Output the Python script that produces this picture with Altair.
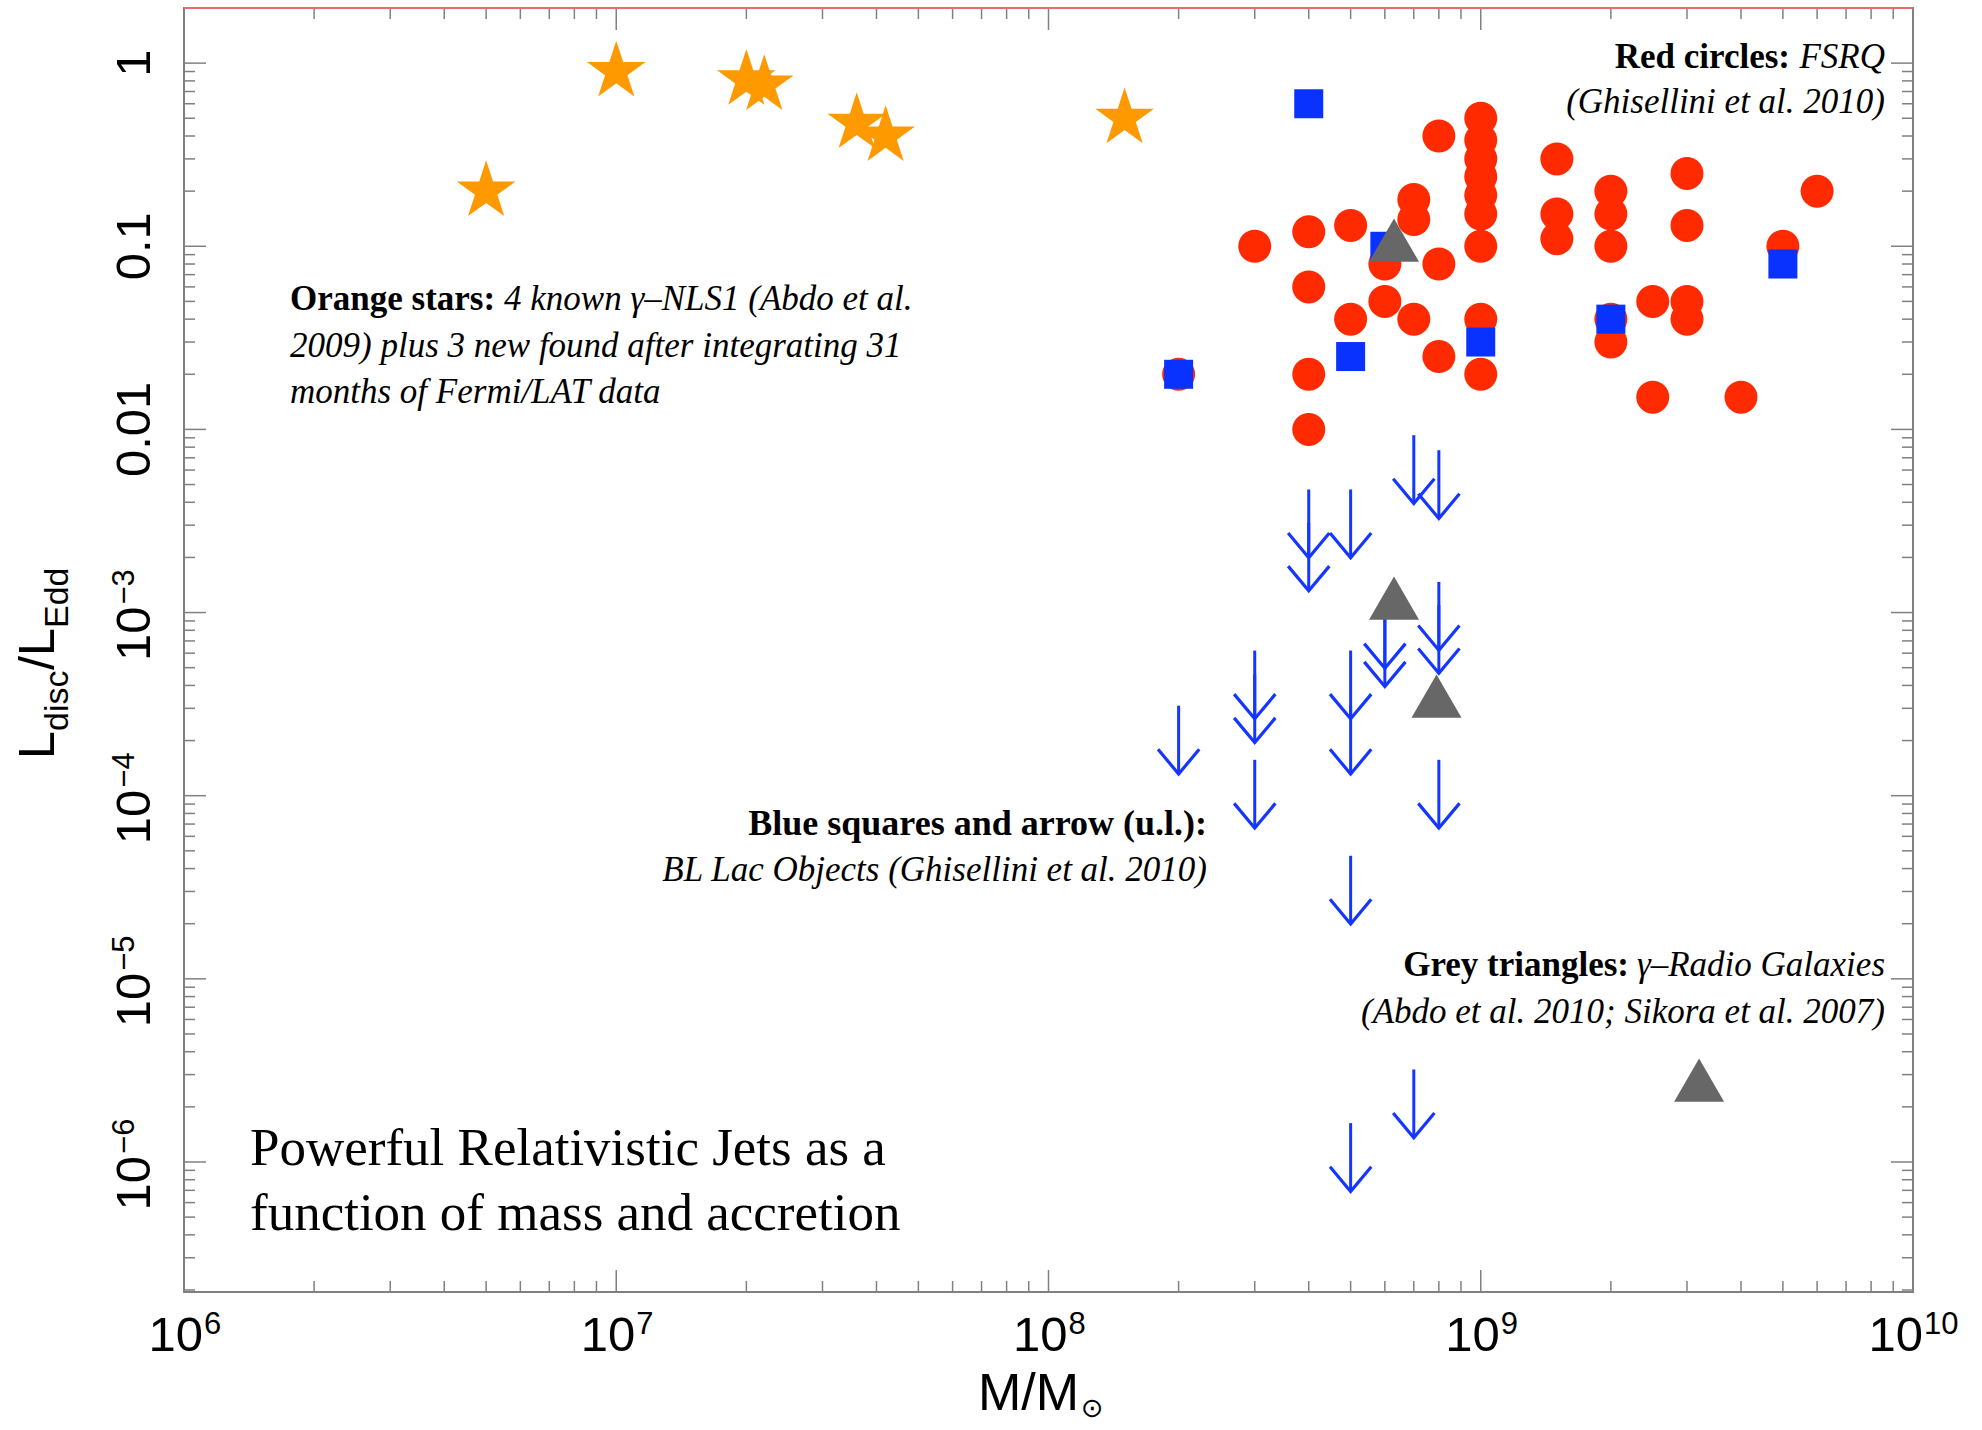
import altair as alt
import pandas as pd

# ---------------- data ----------------
STAR_MASS = [5e6, 1e7, 2e7, 2.2e7, 3.6e7, 4.2e7, 1.5e8]
STAR_LUM = [0.20, 0.90, 0.81, 0.76, 0.47, 0.40, 0.50]

FSRQ_MASS = [3e8, 4e8, 4e8, 4e8, 4e8, 5e8, 5e8, 6e8, 6e8, 7e8, 7e8, 7e8, 8e8, 8e8, 8e8,
             1e9, 1e9, 1e9, 1e9, 1e9, 1e9, 1e9, 1e9, 1e9,
             1.5e9, 1.5e9, 1.5e9,
             2e9, 2e9, 2e9, 2e9, 2e9,
             2.5e9, 2.5e9,
             3e9, 3e9, 3e9, 3e9,
             4e9, 5e9, 6e9, 2e8]
FSRQ_LUM = [0.10, 0.12, 0.06, 0.02, 0.01, 0.13, 0.04, 0.08, 0.05, 0.18, 0.14, 0.04, 0.40, 0.08, 0.025,
            0.50, 0.38, 0.30, 0.24, 0.19, 0.15, 0.10, 0.04, 0.02,
            0.30, 0.15, 0.11,
            0.20, 0.15, 0.10, 0.04, 0.03,
            0.05, 0.015,
            0.25, 0.13, 0.05, 0.04,
            0.015, 0.10, 0.20, 0.02]

BLL_MASS = [4e8, 2e8, 5e8, 1e9, 2e9, 5e9, 6e8]
BLL_LUM = [0.60, 0.02, 0.025, 0.03, 0.04, 0.08, 0.10]

UL_MASS = [4e8, 4e8, 5e8, 7e8, 8e8, 6e8, 6e8, 8e8, 8e8, 3e8, 3e8, 5e8, 5e8, 2e8,
           3e8, 8e8, 5e8, 7e8, 5e8]
UL_LUM = [4.7e-3, 3.1e-3, 4.7e-3, 9.3e-3, 7.7e-3, 1.17e-3, 9.3e-4, 1.47e-3, 1.1e-3,
          6.2e-4, 4.6e-4, 6.2e-4, 3.1e-4, 3.1e-4, 1.57e-4, 1.57e-4, 4.7e-5, 3.2e-6, 1.63e-6]

RG_MASS = [6.3e8, 6.3e8, 7.9e8, 3.2e9]
RG_LUM = [0.108, 1.2e-3, 3.5e-4, 2.8e-6]

X_DECADES = [1e6, 1e7, 1e8, 1e9, 1e10]
X_EXPONENTS = ["6", "7", "8", "9", "10"]
Y_PLAIN = [1.0, 0.1, 0.01]
Y_PLAIN_LABELS = ["1", "0.1", "0.01"]
Y_POW = [1e-3, 1e-4, 1e-5, 1e-6]
Y_POW_EXP = ["\u22123", "\u22124", "\u22125", "\u22126"]

# ---------------- layout ----------------
W, H = 1729, 1284
PAD = {"left": 184, "top": 8, "right": 69, "bottom": 138}

xscale = alt.Scale(type="log", domain=[1e6, 1e10], nice=False)
yscale = alt.Scale(type="log", domain=[1.95e-7, 2.0], nice=False)

ORANGE = "#ff9900"
RED = "#ff2a00"
BLUE = "#0a32ff"
ARROW = "#1436ff"
GREY = "#676767"
TICK = "#808080"

STAR_PATH = ("M0,-1L0.2245,-0.309L0.951,-0.309L0.363,0.118L0.588,0.809L0,0.382"
             "L-0.588,0.809L-0.363,0.118L-0.951,-0.309L-0.2245,-0.309Z")
CHEVRON = "M-1,-1.2L0,0L1,-1.2"


def X(f="m"):
    return alt.X(f"{f}:Q", scale=xscale, axis=None)


def Y(f="l"):
    return alt.Y(f"{f}:Q", scale=yscale, axis=None)


layers = []

# ---- ticks on all four sides (inward) ----
x_major = list(X_DECADES)
x_minor = [m * 10.0 ** e for e in range(6, 10) for m in range(2, 10)]
y_major = [10.0 ** e for e in range(-6, 1)]
y_minor = [m * 10.0 ** e for e in range(-7, 1) for m in range(2, 10)
           if 1.95e-7 <= m * 10.0 ** e <= 2.0]

for vals, ln in ((x_major, 22), (x_minor, 11)):
    d = pd.DataFrame({"v": vals})
    layers.append(alt.Chart(d).mark_rule(color=TICK, strokeWidth=1.5).encode(
        x=X("v"), y=alt.value(H), y2=alt.value(H - ln)))
    layers.append(alt.Chart(d).mark_rule(color=TICK, strokeWidth=1.5).encode(
        x=X("v"), y=alt.value(0), y2=alt.value(ln)))
for vals, ln in ((y_major, 22), (y_minor, 11)):
    d = pd.DataFrame({"v": vals})
    layers.append(alt.Chart(d).mark_rule(color=TICK, strokeWidth=1.5).encode(
        y=Y("v"), x=alt.value(0), x2=alt.value(ln)))
    layers.append(alt.Chart(d).mark_rule(color=TICK, strokeWidth=1.5).encode(
        y=Y("v"), x=alt.value(W), x2=alt.value(W - ln)))

# reddish top edge
layers.append(alt.Chart(pd.DataFrame({"a": [0]})).mark_rule(color="#ec6a6a", strokeWidth=2).encode(
    x=alt.value(0), x2=alt.value(W), y=alt.value(0)))

# ---- data marks ----
stars = pd.DataFrame({"m": STAR_MASS, "l": STAR_LUM})
fsrq = pd.DataFrame({"m": FSRQ_MASS, "l": FSRQ_LUM})
bll = pd.DataFrame({"m": BLL_MASS, "l": BLL_LUM})
ul = pd.DataFrame({"m": UL_MASS, "l": UL_LUM})
rg = pd.DataFrame({"m": RG_MASS, "l": RG_LUM})

layers.append(alt.Chart(stars).mark_point(shape=STAR_PATH, filled=True, size=3800, color=ORANGE,
                                          opacity=1, strokeWidth=0).encode(x=X(), y=Y()))
layers.append(alt.Chart(fsrq).mark_point(shape="circle", filled=True, size=1089, color=RED,
                                         opacity=1, strokeWidth=0).encode(x=X(), y=Y()))
layers.append(alt.Chart(bll).mark_point(shape="square", filled=True, size=841, color=BLUE,
                                        opacity=1, strokeWidth=0).encode(x=X(), y=Y()))
arrow_base = alt.Chart(ul).transform_calculate(tip="datum.l / 2.36")
layers.append(arrow_base.mark_rule(color=ARROW, strokeWidth=3).encode(x=X(), y=Y(), y2="tip:Q"))
layers.append(arrow_base.mark_point(shape=CHEVRON, filled=False, size=1700, color=ARROW,
                                    strokeWidth=3.2, opacity=1).encode(x=X(), y=Y("tip")))
layers.append(alt.Chart(rg).mark_point(shape="triangle-up", filled=True, size=2500, color=GREY,
                                       opacity=1, strokeWidth=0).encode(x=X(), y=Y()))

# ---- axis labels ----
SANS = "Liberation Sans"
xd = pd.DataFrame({"v": X_DECADES, "e": X_EXPONENTS})
xd1 = xd[xd["e"].str.len() == 1]
xd2 = xd[xd["e"].str.len() == 2]
for d, off in ((xd1, 19), (xd2, 10)):
    layers.append(alt.Chart(d).mark_text(align="right", baseline="alphabetic", font=SANS, fontSize=49,
                                         dx=off, color="black", text="10").encode(
        x=X("v"), y=alt.value(H + 59)))
    layers.append(alt.Chart(d).mark_text(align="left", baseline="alphabetic", font=SANS, fontSize=31,
                                         dx=off + 1, color="black").encode(
        x=X("v"), y=alt.value(H + 42), text="e:N"))

yp = pd.DataFrame({"v": Y_PLAIN, "t": Y_PLAIN_LABELS})
layers.append(alt.Chart(yp).mark_text(align="center", baseline="alphabetic", angle=270, font=SANS,
                                      fontSize=49, color="black").encode(
    y=Y("v"), x=alt.value(-34), text="t:N"))
ye = pd.DataFrame({"v": Y_POW, "e": Y_POW_EXP})
layers.append(alt.Chart(ye).mark_text(align="right", baseline="alphabetic", angle=270, font=SANS,
                                      fontSize=49, dx=6, color="black", text="10").encode(
    y=Y("v"), x=alt.value(-34)))
layers.append(alt.Chart(ye).mark_text(align="left", baseline="alphabetic", angle=270, font=SANS,
                                      fontSize=31, dx=8, dy=-16, color="black").encode(
    y=Y("v"), x=alt.value(-34), text="e:N"))


def txt(text, x, y, size=35, weight="normal", style="normal", align="left", font="Liberation Serif",
        angle=0, dx=0, dy=0):
    return alt.Chart(pd.DataFrame({"t": [text]})).mark_text(
        align=align, baseline="alphabetic", font=font, fontSize=size, fontWeight=weight,
        fontStyle=style, color="black", angle=angle, dx=dx, dy=dy).encode(
        x=alt.value(x), y=alt.value(y), text="t:N")


# axis titles
layers.append(txt("M/M", 895, 1402, size=52, font=SANS, align="right"))
layers.append(txt("\u2299", 897, 1409, size=27, font="DejaVu Sans", align="left"))

ty = 656
layers.append(txt("L", -130, ty, size=50, font=SANS, angle=270, dx=-95))
layers.append(txt("disc", -130, ty, size=34, font=SANS, angle=270, dx=-67, dy=14))
layers.append(txt("/L", -130, ty, size=50, font=SANS, angle=270, dx=-6))
layers.append(txt("Edd", -130, ty, size=34, font=SANS, angle=270, dx=36, dy=14))

# annotations
layers.append(txt("Red circles:", 1606, 60, weight="bold", align="right"))
layers.append(txt("FSRQ", 1701, 60, style="italic", align="right"))
layers.append(txt("(Ghisellini et al. 2010)", 1701, 105, style="italic", align="right"))

layers.append(txt("Orange stars:", 106, 302, weight="bold"))
layers.append(txt("4 known \u03b3\u2013NLS1 (Abdo et al.", 320, 302, style="italic"))
layers.append(txt("2009) plus 3 new found after integrating 31", 106, 349, style="italic"))
layers.append(txt("months of Fermi/LAT data", 106, 395, style="italic"))

layers.append(txt("Blue squares and arrow (u.l.):", 1023, 827, weight="bold", align="right", size=36))
layers.append(txt("BL Lac Objects (Ghisellini et al. 2010)", 1023, 873, style="italic", align="right"))

layers.append(txt("Grey triangles:", 1445, 968, weight="bold", align="right"))
layers.append(txt("\u03b3\u2013Radio Galaxies", 1701, 968, style="italic", align="right"))
layers.append(txt("(Abdo et al. 2010; Sikora et al. 2007)", 1701, 1015, style="italic", align="right"))

layers.append(txt("Powerful Relativistic Jets as a", 66, 1157, size=53))
layers.append(txt("function of mass and accretion", 66, 1222, size=53))

chart = alt.layer(*layers).properties(
    width=W, height=H, padding=PAD, autosize=alt.AutoSizeParams(type="none"), background="white"
).configure_view(stroke="#808080", strokeWidth=2)

chart.save("out.html", embed_options={"renderer": "svg", "actions": False})
